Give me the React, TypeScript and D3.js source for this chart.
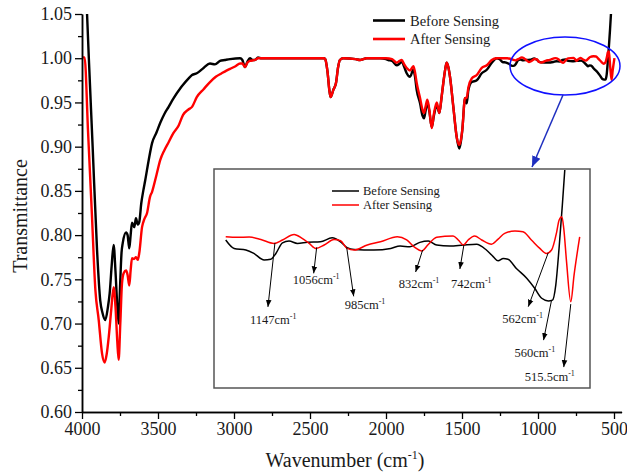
import { useRef, useEffect } from "react";
import * as d3 from "d3";

// spectra (wavenumber in cm-1, transmittance)
const beforeWn = [3975, 3955, 3930, 3901, 3880, 3865, 3847, 3830, 3818, 3805, 3792, 3780, 3768, 3759, 3750, 3740, 3732, 3710, 3700, 3689, 3680, 3671, 3656, 3645, 3633, 3623, 3610, 3597, 3584, 3561, 3539, 3510, 3485, 3458, 3430, 3400, 3353, 3335, 3300, 3276, 3245, 3200, 3158, 3125, 3092, 3060, 3026, 2960, 2945, 2928, 2912, 2895, 2878, 2862, 2842, 2820, 2600, 2410, 2400, 2385, 2372, 2364, 2347, 2329, 2315, 2303, 2281, 2200, 2171, 2127, 2039, 2000, 1985, 1960, 1930, 1910, 1897, 1880, 1864, 1842, 1820, 1810, 1798, 1776, 1760, 1750, 1740, 1728, 1715, 1699, 1685, 1666, 1649, 1635, 1623, 1610, 1601, 1590, 1579, 1557, 1535, 1518, 1508, 1498, 1480, 1469, 1458, 1436, 1403, 1370, 1337, 1304, 1272, 1252, 1234, 1209, 1192, 1170, 1156, 1145, 1131, 1117, 1099, 1078, 1050, 1025, 1007, 993, 978, 936, 900, 880, 859, 838, 820, 802, 774, 745, 717, 696, 681, 671, 660, 650, 632, 610, 593, 578, 564, 555, 548, 541, 534, 527, 520, 512];
const beforeT = [1.085, 1.0, 0.9, 0.783, 0.726, 0.712, 0.704, 0.718, 0.734, 0.765, 0.789, 0.76, 0.72, 0.7, 0.74, 0.78, 0.791, 0.803, 0.8, 0.785, 0.8, 0.814, 0.809, 0.819, 0.812, 0.815, 0.836, 0.85, 0.862, 0.885, 0.904, 0.916, 0.927, 0.937, 0.945, 0.954, 0.966, 0.97, 0.977, 0.981, 0.983, 0.989, 0.994, 0.993, 0.997, 0.998, 0.999, 1.0, 0.998, 0.99, 0.996, 1.0, 0.998, 0.998, 1.001, 1.0, 1.0, 1.0, 0.999, 0.985, 0.963, 0.956, 0.964, 0.972, 0.99, 0.998, 1.0, 0.999, 0.998, 1.0, 1.0, 0.999, 0.998, 0.997, 0.992, 0.994, 0.996, 0.99, 0.983, 0.979, 0.987, 0.98, 0.964, 0.949, 0.935, 0.932, 0.94, 0.95, 0.94, 0.922, 0.935, 0.947, 0.938, 0.955, 0.972, 0.988, 0.995, 0.99, 0.979, 0.945, 0.911, 0.898, 0.905, 0.919, 0.955, 0.949, 0.964, 0.973, 0.975, 0.983, 0.987, 0.995, 1.0, 0.9989, 0.9957, 0.9951, 0.9938, 0.9913, 0.9916, 0.9938, 0.9978, 0.9985, 0.9976, 0.998, 0.9982, 0.9997, 0.9982, 0.996, 0.9953, 0.9951, 0.9957, 0.9966, 0.9963, 0.998, 0.9985, 0.997, 0.9966, 0.997, 0.9973, 0.9951, 0.9925, 0.991, 0.9919, 0.9916, 0.9881, 0.9844, 0.9806, 0.9768, 0.9758, 0.9761, 0.9818, 0.9957, 1.0121, 1.03, 1.05, 1.08];

const afterWn = [4000, 3983, 3960, 3935, 3912, 3890, 3868, 3851, 3838, 3824, 3808, 3792, 3780, 3768, 3759, 3748, 3737, 3726, 3710, 3700, 3689, 3680, 3671, 3658, 3645, 3633, 3623, 3605, 3590, 3572, 3553, 3539, 3510, 3485, 3458, 3430, 3400, 3364, 3335, 3300, 3276, 3245, 3200, 3158, 3120, 3081, 3050, 3026, 2990, 2960, 2945, 2928, 2912, 2895, 2862, 2842, 2600, 2410, 2400, 2385, 2372, 2364, 2347, 2329, 2315, 2303, 2281, 2200, 2171, 2127, 2000, 1960, 1930, 1910, 1897, 1880, 1864, 1842, 1820, 1810, 1798, 1776, 1760, 1750, 1740, 1728, 1715, 1699, 1685, 1666, 1649, 1635, 1623, 1610, 1601, 1590, 1579, 1557, 1535, 1518, 1508, 1498, 1480, 1469, 1458, 1436, 1403, 1370, 1337, 1304, 1272, 1252, 1227, 1202, 1177, 1149, 1131, 1106, 1089, 1074, 1060, 1042, 1021, 1007, 993, 978, 950, 922, 886, 866, 848, 834, 820, 802, 767, 756, 745, 735, 721, 706, 685, 671, 657, 635, 618, 600, 582, 568, 557, 546, 541, 535, 531, 525, 516, 509, 497];
const afterT = [1.001, 1.001, 0.916, 0.824, 0.738, 0.704, 0.666, 0.656, 0.665, 0.685, 0.715, 0.741, 0.72, 0.68, 0.659, 0.7, 0.745, 0.757, 0.76, 0.755, 0.743, 0.76, 0.774, 0.773, 0.775, 0.772, 0.78, 0.809, 0.818, 0.825, 0.843, 0.849, 0.868, 0.885, 0.896, 0.905, 0.915, 0.924, 0.936, 0.942, 0.945, 0.956, 0.965, 0.973, 0.979, 0.983, 0.986, 0.988, 0.991, 0.994, 0.994, 0.99, 0.995, 0.997, 0.998, 1.0, 1.0, 1.0, 0.999, 0.985, 0.963, 0.956, 0.964, 0.972, 0.99, 0.998, 1.0, 0.999, 0.998, 1.0, 1.0, 0.999, 0.995, 0.997, 0.998, 0.993, 0.989, 0.986, 0.991, 0.985, 0.972, 0.955, 0.942, 0.938, 0.945, 0.953, 0.942, 0.921, 0.937, 0.95, 0.938, 0.955, 0.972, 0.988, 0.995, 0.99, 0.979, 0.945, 0.911, 0.902, 0.907, 0.919, 0.955, 0.955, 0.967, 0.977, 0.981, 0.989, 0.992, 0.998, 1.0, 1.0001, 0.9999, 1.0, 0.9991, 0.9976, 0.9989, 1.001, 0.9995, 0.9976, 0.9957, 0.997, 0.9991, 0.9986, 0.9957, 0.9951, 0.997, 0.9982, 1.0001, 0.9989, 0.996, 0.9947, 0.9972, 0.9999, 1.0004, 0.9989, 0.997, 0.9989, 1.0004, 0.9989, 0.9973, 0.9992, 1.0014, 1.0023, 1.002, 0.9989, 0.9957, 0.9938, 0.9951, 1.002, 1.0064, 1.0077, 1.0033, 0.9906, 0.9755, 0.9856, 1.0001];

const xTickValues = [4000, 3500, 3000, 2500, 2000, 1500, 1000, 500];
const xMinorValues = [3750, 3250, 2750, 2250, 1750, 1250, 750];
const yTickValues = [0.6, 0.65, 0.7, 0.75, 0.8, 0.85, 0.9, 0.95, 1.0, 1.05];
const yMinorValues = [0.625, 0.675, 0.725, 0.775, 0.825, 0.875, 0.925, 0.975, 1.025];

const seriesNames = ["Before Sensing", "After Sensing"];
const seriesColors = ["#000000", "#ff0000"];

// peak callouts in the inset: label, point the arrow starts from
const peakLabels = ["1147", "1056", "985", "832", "742", "562", "560", "515.5"];
const peakWn = [1147, 1058, 994, 832, 744, 564, 557, 516];
const peakT = [0.9978, 0.9961, 0.9961, 0.9951, 0.997, 0.9941, 0.9761, 0.9746];
// arrow end offset and label offset (px), layout only
const peakLayout = [
  [-7, 64, -18, 17],
  [-3, 26, -21, 11],
  [7, 49, -9, 13],
  [-7, 22, -17, 16],
  [-4, 24, -9, 19],
  [-20, 54, -26, 16],
  [-8, 40, -29, 17],
  [-7, 63, -39, 14],
];

const font = "Liberation Serif, serif";

function App() {
  const xMajRef = useRef<SVGGElement>(null);
  const xMinRef = useRef<SVGGElement>(null);
  const yMajRef = useRef<SVGGElement>(null);
  const yMinRef = useRef<SVGGElement>(null);

  // main plot
  const x = d3.scaleLinear().domain([4000, 450]).range([82, 621.6]);
  const y = d3.scaleLinear().domain([0.6, 1.05]).range([412, 14]);

  // inset plot (zoom of 1280-475 cm-1)
  const ix = d3.scaleLinear().domain([1277, 475]).range([214, 590]);
  const iy = d3.scaleLinear().domain([0.9428, 1.0258]).range([388, 169]);

  const series = [
    beforeWn.map((w, i) => [w, beforeT[i]]),
    afterWn.map((w, i) => [w, afterT[i]]),
  ];

  const mainLine = d3
    .line<number[]>()
    .x((d) => x(d[0]))
    .y((d) => y(d[1]))
    .curve(d3.curveMonotoneX);
  const insetLine = d3
    .line<number[]>()
    .x((d) => ix(d[0]))
    .y((d) => iy(d[1]))
    .curve(d3.curveMonotoneX);

  useEffect(() => {
    const style = (g, size) => {
      g.select(".domain").attr("stroke", "#000").attr("stroke-width", 1.5);
      g.selectAll(".tick line").attr("stroke", "#000").attr("stroke-width", 1.3);
      g.selectAll(".tick text")
        .attr("fill", "#1a1a1a")
        .attr("font-family", font)
        .attr("font-size", size);
      g.attr("font-family", font).attr("font-size", size);
    };
    const gx = d3
      .select(xMajRef.current)
      .call(d3.axisBottom(x).tickValues(xTickValues).tickSize(7).tickPadding(3).tickSizeOuter(0).tickFormat(d3.format("d")));
    style(gx, 18);
    const gxm = d3
      .select(xMinRef.current)
      .call(d3.axisBottom(x).tickValues(xMinorValues).tickSize(4).tickSizeOuter(0).tickFormat(() => ""));
    style(gxm, 18);
    const gy = d3
      .select(yMajRef.current)
      .call(d3.axisLeft(y).tickValues(yTickValues).tickSize(7).tickPadding(3).tickSizeOuter(0).tickFormat(d3.format(".2f")));
    style(gy, 18);
    const gym = d3
      .select(yMinRef.current)
      .call(d3.axisLeft(y).tickValues(yMinorValues).tickSize(4).tickSizeOuter(0).tickFormat(() => ""));
    style(gym, 18);
  }, []);

  const insetData = series.map((s) => s.filter((d) => d[0] <= 1253 && d[0] >= 497));

  return (
    <svg width={627} height={472} fontFamily={font} style={{ position: "absolute", left: 0, top: 0, background: "#fff" }}>
      <defs>
        <clipPath id="plotClip">
          <rect x={82} y={14} width={540} height={398} />
        </clipPath>
        <clipPath id="insetClip">
          <rect x={214} y={170} width={376} height={218} />
        </clipPath>
        <marker id="blackHead" viewBox="0 0 10 10" refX={10} refY={5} markerWidth={7} markerHeight={7} markerUnits="userSpaceOnUse" orient="auto">
          <path d="M0,1 L10,5 L0,9 z" fill="#000" />
        </marker>
        <marker id="blueHead" viewBox="0 0 10 10" refX={10} refY={5} markerWidth={11} markerHeight={11} markerUnits="userSpaceOnUse" orient="auto">
          <path d="M0,1 L10,5 L0,9 z" fill="#1f2fbf" />
        </marker>
      </defs>

      {/* main spectra */}
      <g clipPath="url(#plotClip)">
        {series.map((s, i) => (
          <path key={i} d={mainLine(s) ?? ""} fill="none" stroke={seriesColors[i]} strokeWidth={2.4} strokeLinejoin="round" />
        ))}
      </g>

      <g ref={xMinRef} transform="translate(0,412)" />
      <g ref={xMajRef} transform="translate(0,412)" />
      <g ref={yMinRef} transform="translate(82,0)" />
      <g ref={yMajRef} transform="translate(82,0)" />

      <text x={345} y={467} textAnchor="middle" fontFamily={font} fontSize={20} fill="#1a1a1a">
        Wavenumber (cm<tspan dy={-8} fontSize={12}>-1</tspan><tspan dy={8}>)</tspan>
      </text>
      <text transform="translate(27,216) rotate(-90)" textAnchor="middle" fontFamily={font} fontSize={20} fill="#1a1a1a">
        Transmittance
      </text>

      {/* main legend */}
      {seriesNames.map((name, i) => (
        <g key={name} transform={`translate(373,${20.5 + i * 18.5})`}>
          <line x1={0} x2={32} y1={0} y2={0} stroke={seriesColors[i]} strokeWidth={2.6} />
          <text x={37} y={5} fontFamily={font} fontSize={14.5} fill="#1a1a1a">{name}</text>
        </g>
      ))}

      {/* highlight ellipse and pointer */}
      <ellipse cx={565} cy={66} rx={55} ry={29} fill="none" stroke="#1010ff" strokeWidth={1.5} />
      <line x1={563} y1={95} x2={532} y2={167} stroke="#1f2fbf" strokeWidth={1.5} markerEnd="url(#blueHead)" />

      {/* inset */}
      <rect x={214} y={169} width={376} height={219} fill="#fff" stroke="#555" strokeWidth={1.5} />
      <g clipPath="url(#insetClip)">
        {insetData.map((s, i) => (
          <path key={i} d={insetLine(s) ?? ""} fill="none" stroke={seriesColors[i]} strokeWidth={1.5} />
        ))}
      </g>
      {seriesNames.map((name, i) => (
        <g key={name} transform={`translate(332,${191 + i * 14})`}>
          <line x1={0} x2={27} y1={0} y2={0} stroke={seriesColors[i]} strokeWidth={1.5} />
          <text x={31} y={4} fontFamily={font} fontSize={12.5} fill="#1a1a1a">{name}</text>
        </g>
      ))}
      {peakLabels.map((lab, i) => {
        const sx = ix(peakWn[i]);
        const sy = iy(peakT[i]);
        const [dx, dy, lx, ly] = peakLayout[i];
        const ex = sx + dx;
        const ey = sy + dy;
        return (
          <g key={lab}>
            <line x1={sx} y1={sy} x2={ex} y2={ey} stroke="#000" strokeWidth={1} markerEnd="url(#blackHead)" />
            <text x={ex + lx} y={ey + ly} fontFamily={font} fontSize={12.5} fill="#1a1a1a">
              {lab}cm<tspan dy={-5} fontSize={8}>-1</tspan>
            </text>
          </g>
        );
      })}
    </svg>
  );
}

export default App;
